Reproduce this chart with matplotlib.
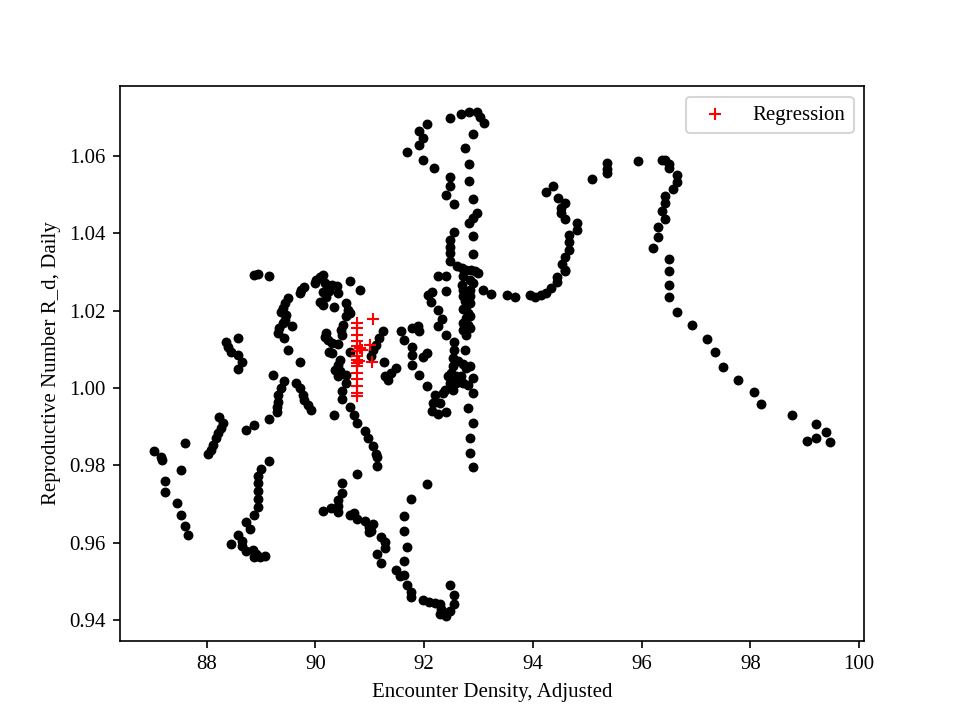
import matplotlib
matplotlib.use("Agg")
import matplotlib.pyplot as plt

plt.rcParams['font.family'] = ['Liberation Serif', 'DejaVu Serif']
plt.rcParams['font.size'] = 10

# Observed daily points (Encounter Density, Adjusted  vs  Reproductive Number R_d)
encounter_density = [
    # far left
    87.03, 87.17, 87.18, 87.23, 87.23, 87.45, 87.53, 87.60, 87.66, 87.53, 87.60,
    # left cluster
    88.02, 88.09, 88.12, 88.18, 88.21, 88.27, 88.30, 88.23, 88.72, 88.87, 89.15,
    88.36, 88.39, 88.45, 88.58, 88.66, 88.58, 88.58, 88.88, 88.94, 89.15,
    # middle-left
    89.22, 89.42, 89.37, 89.31, 89.31, 89.29, 89.29, 89.65, 89.71, 89.77, 89.80, 89.86, 89.93,
    89.50, 89.44, 89.40, 89.37, 89.47, 89.44, 89.40, 89.34, 89.31, 89.42, 89.57, 89.50, 89.71,
    89.71, 89.80, 89.74,
    # central cluster
    90.02, 90.08, 90.14, 89.99, 90.17, 90.23, 90.30, 90.39, 90.14, 90.26, 90.20, 90.08, 90.14,
    90.42, 90.34, 90.63, 90.83, 90.57, 90.60, 90.63, 90.57, 90.51, 90.48, 90.50, 90.20, 90.17,
    90.23, 90.30, 90.26, 90.42, 90.30, 90.63, 90.45, 90.42, 90.36, 90.45, 90.42, 90.57, 90.57,
    90.50, 90.50, 90.63, 90.72, 90.77, 90.91, 90.97, 90.34, 91.06, 91.12, 91.13, 91.13,
    # middle
    91.25, 91.18, 91.12, 91.06, 91.03, 91.26, 91.48, 91.40, 91.28, 91.34, 91.58, 91.64, 91.77,
    91.89, 91.91, 91.77, 91.77, 91.77, 91.98, 92.06, 91.91, 92.06, 92.07, 92.14, 92.13, 92.26,
    92.33, 92.26, 92.41, 92.56, 92.26, 92.41, 92.41,
    # dense lower column
    92.56, 92.75, 92.53, 92.62, 92.72, 92.78, 92.84, 92.53, 92.50, 92.59, 92.68, 92.44, 92.47,
    92.59, 92.72, 92.81, 92.90, 92.38, 92.53, 92.35, 92.20, 92.17, 92.29, 92.14, 92.26, 92.40,
    92.81, 92.90, 92.90, 92.85, 92.85, 92.90,
    # dense upper column
    92.48, 92.48, 92.90, 92.60, 92.69, 92.78, 92.87, 92.93, 93.00, 92.72, 92.84, 92.90, 92.69,
    92.72, 92.72, 92.75, 92.78, 92.72, 92.81, 92.78, 92.72, 92.81, 92.72, 92.78, 92.84, 92.84,
    92.84, 92.84, 92.84, 93.09, 93.24,
    # top loop
    91.69, 91.91, 91.98, 91.91, 92.06, 91.98, 92.18, 92.48, 92.68, 92.83, 92.97, 93.03, 93.10,
    92.90, 92.75, 92.83, 92.48, 92.48, 92.41, 92.56, 92.83, 92.90, 92.98, 92.90, 92.83, 92.56,
    92.48, 92.48, 92.90,
    # upper right arc
    93.53, 93.67, 93.95, 94.04, 94.16, 94.25, 94.34, 94.44, 94.45, 94.59, 94.60, 94.53, 94.60,
    94.67, 94.67, 94.67, 94.81, 94.81, 94.60, 94.52, 94.52, 94.60, 94.46, 94.37, 94.25, 95.09,
    95.37, 95.37, 95.37,
    # right tail
    95.94, 96.37, 96.44, 96.51, 96.51, 96.65, 96.65, 96.58, 96.44, 96.44, 96.37, 96.44, 96.30,
    96.30, 96.21, 96.51, 96.51, 96.51, 96.51, 96.65, 96.93, 97.21, 97.36, 97.50, 97.78, 98.06,
    98.20, 98.77, 99.20, 99.40, 99.20, 99.05, 99.47,
    # lower left loop
    89.15, 89.00, 88.94, 88.94, 88.94, 88.94, 88.94, 88.87, 88.72, 88.80, 88.58, 88.45, 88.65,
    88.65, 88.72, 88.85, 88.91, 88.98, 89.08, 88.88,
    # lower middle
    90.77, 90.49, 90.49, 90.42, 90.42, 90.28, 90.14, 90.42, 90.63, 90.72, 90.77, 90.92, 90.99,
    90.99, 91.06, 91.03, 91.21, 91.28, 91.28, 91.13, 91.21,
    # bottom hook
    92.06, 91.76, 91.63, 91.63, 91.69, 91.63, 91.48, 91.55, 91.63, 91.69, 91.76, 91.76, 91.98,
    92.10, 92.20, 92.29, 92.32, 92.35, 92.41, 92.47, 92.56, 92.55, 92.47, 92.29,
]

reproductive_number = [
    # far left
    0.9838, 0.9823, 0.9814, 0.9761, 0.9732, 0.9702, 0.9673, 0.9644, 0.9621, 0.9789, 0.9859,
    # left cluster
    0.9829, 0.9841, 0.9853, 0.9870, 0.9883, 0.9896, 0.9909, 0.9926, 0.9892, 0.9905, 0.9921,
    1.0120, 1.0107, 1.0094, 1.0086, 1.0068, 1.0050, 1.0130, 1.0292, 1.0294, 1.0289,
    # middle-left
    1.0034, 1.0017, 0.9999, 0.9982, 0.9965, 0.9952, 0.9939, 1.0012, 0.9999, 0.9982, 0.9970, 0.9957, 0.9944,
    1.0232, 1.0219, 1.0207, 1.0197, 1.0189, 1.0176, 1.0167, 1.0154, 1.0141, 1.0129, 1.0161, 1.0097, 1.0068,
    1.0245, 1.0262, 1.0253,
    # central cluster
    1.0279, 1.0288, 1.0292, 1.0271, 1.0270, 1.0262, 1.0266, 1.0263, 1.0249, 1.0250, 1.0236, 1.0223, 1.0215,
    1.0246, 1.0210, 1.0277, 1.0252, 1.0220, 1.0202, 1.0193, 1.0185, 1.0163, 1.0150, 1.0137, 1.0141, 1.0133,
    1.0124, 1.0116, 1.0094, 1.0113, 1.0091, 1.0092, 1.0073, 1.0060, 1.0047, 1.0043, 1.0030, 1.0034, 1.0014,
    0.9993, 0.9971, 0.9950, 0.9929, 0.9909, 0.9890, 0.9870, 0.9931, 0.9849, 0.9829, 0.9821, 0.9799,
    # middle
    1.0147, 1.0130, 1.0112, 1.0099, 1.0082, 1.0068, 1.0051, 1.0038, 1.0030, 1.0021, 1.0146, 1.0124, 1.0156,
    1.0161, 1.0148, 1.0107, 1.0086, 1.0060, 1.0081, 1.0090, 1.0034, 1.0006, 1.0239, 1.0249, 1.0221, 1.0202,
    1.0179, 1.0159, 1.0137, 1.0120, 1.0290, 1.0290, 1.0251,
    # dense lower column
    1.0099, 1.0099, 1.0078, 1.0069, 1.0061, 1.0052, 1.0056, 1.0056, 1.0039, 1.0030, 1.0030, 1.0030, 1.0013,
    1.0013, 1.0013, 1.0009, 1.0026, 0.9996, 0.9996, 0.9988, 0.9983, 0.9962, 0.9962, 0.9940, 0.9932, 0.9939,
    0.9949, 0.9910, 0.9986, 0.9870, 0.9832, 0.9795,
    # dense upper column
    1.0349, 1.0327, 1.0347, 1.0316, 1.0310, 1.0306, 1.0306, 1.0301, 1.0297, 1.0289, 1.0280, 1.0271, 1.0267,
    1.0254, 1.0237, 1.0224, 1.0211, 1.0203, 1.0194, 1.0181, 1.0168, 1.0164, 1.0151, 1.0138, 1.0254, 1.0237,
    1.0220, 1.0185, 1.0155, 1.0252, 1.0244,
    # top loop
    1.0610, 1.0665, 1.0646, 1.0628, 1.0682, 1.0590, 1.0569, 1.0697, 1.0708, 1.0714, 1.0714, 1.0701, 1.0684,
    1.0656, 1.0620, 1.0579, 1.0546, 1.0523, 1.0499, 1.0476, 1.0535, 1.0488, 1.0451, 1.0439, 1.0427, 1.0403,
    1.0383, 1.0364, 1.0393,
    # upper right arc
    1.0239, 1.0235, 1.0239, 1.0234, 1.0239, 1.0245, 1.0258, 1.0275, 1.0288, 1.0301, 1.0306, 1.0321, 1.0339,
    1.0357, 1.0376, 1.0394, 1.0409, 1.0425, 1.0437, 1.0451, 1.0465, 1.0478, 1.0491, 1.0523, 1.0506, 1.0540,
    1.0581, 1.0567, 1.0555,
    # right tail
    1.0586, 1.0590, 1.0590, 1.0579, 1.0568, 1.0550, 1.0533, 1.0514, 1.0497, 1.0478, 1.0458, 1.0437, 1.0416,
    1.0389, 1.0362, 1.0332, 1.0303, 1.0266, 1.0234, 1.0197, 1.0163, 1.0127, 1.0092, 1.0055, 1.0021, 0.9990,
    0.9959, 0.9931, 0.9908, 0.9887, 0.9872, 0.9864, 0.9861,
    # lower left loop
    0.9812, 0.9792, 0.9773, 0.9754, 0.9733, 0.9714, 0.9692, 0.9673, 0.9653, 0.9636, 0.9621, 0.9598, 0.9606,
    0.9593, 0.9580, 0.9581, 0.9571, 0.9563, 0.9565, 0.9564,
    # lower middle
    0.9778, 0.9754, 0.9730, 0.9710, 0.9696, 0.9689, 0.9681, 0.9679, 0.9673, 0.9676, 0.9661, 0.9657, 0.9640,
    0.9627, 0.9649, 0.9631, 0.9614, 0.9601, 0.9587, 0.9570, 0.9548,
    # bottom hook
    0.9753, 0.9714, 0.9670, 0.9631, 0.9590, 0.9554, 0.9531, 0.9515, 0.9518, 0.9492, 0.9472, 0.9461, 0.9452,
    0.9446, 0.9444, 0.9442, 0.9429, 0.9421, 0.9412, 0.9425, 0.9442, 0.9465, 0.9490, 0.9416,
]

# Regression points
regression_x = [90.76] * 15 + [91.06, 91.00, 91.04, 90.85, 90.80, 90.83]
regression_y = [1.0168, 1.0155, 1.0138, 1.0121, 1.0108, 1.0095, 1.0082, 1.0073, 1.0065,
                1.0056, 1.0039, 1.0022, 1.0005, 0.9988, 0.9979,
                1.0177, 1.0112, 1.0068, 1.0099, 1.0070, 1.0104]

fig, ax = plt.subplots(figsize=(6.4, 4.8), dpi=150)
ax.scatter(encounter_density, reproductive_number, s=14, color='black')
ax.scatter(regression_x, regression_y, s=38, marker='+', linewidths=1.0,
           color='red', label='Regression')
ax.set_xlabel('Encounter Density, Adjusted')
ax.set_ylabel('Reproductive Number R_d, Daily')
ax.legend(loc='upper right')
fig.savefig('out.png', dpi=150)
